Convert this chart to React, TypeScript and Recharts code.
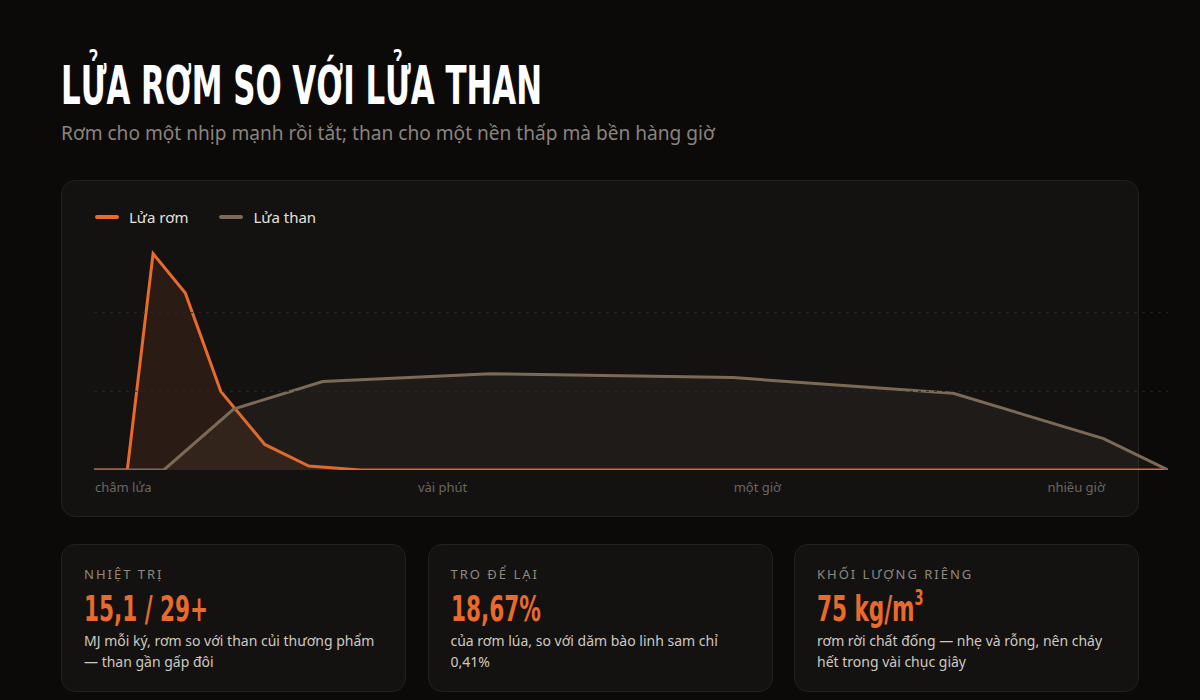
import { AreaChart, Area, XAxis, YAxis, ReferenceLine } from 'recharts';

// thời gian (thang 0–100) và nhiệt độ tương đối của từng loại lửa
const strawTime = [0, 3.1, 5.5, 8.5, 11.8, 15.9, 20, 24.8, 100];
const strawHeat = [0, 0, 110, 90, 40, 13, 2, 0, 0];
const coalTime = [0, 6.5, 13, 21.3, 36.9, 59.5, 80, 94, 100];
const coalHeat = [0, 0, 31, 45, 49, 47, 39, 16, 0];

const gridLevels = [40, 80];
const timeLabels = ['châm lửa', 'vài phút', 'một giờ', 'nhiều giờ'];

const ORANGE = '#ea6a2c';
const BROWN = '#7c6a56';
const SANS = '"Noto Sans", "Open Sans", sans-serif';
const CONDENSED = '"DejaVu Sans Condensed", "DejaVu Sans", sans-serif';

const allTimes = Array.from(new Set([...strawTime, ...coalTime])).sort((a, b) => a - b);
const data = allTimes.map((t) => {
  const si = strawTime.indexOf(t);
  const ci = coalTime.indexOf(t);
  return {
    t,
    straw: si >= 0 ? strawHeat[si] : null,
    coal: ci >= 0 ? coalHeat[ci] : null,
  };
});

const stats = [
  { label: 'NHIỆT TRỊ', value: '15,1 / 29+', sup: '', text: 'MJ mỗi ký, rơm so với than củi thương phẩm — than gần gấp đôi' },
  { label: 'TRO ĐỂ LẠI', value: '18,67%', sup: '', text: 'của rơm lúa, so với dăm bào linh sam chỉ 0,41%' },
  { label: 'KHỐI LƯỢNG RIÊNG', value: '75 kg/m', sup: '3', text: 'rơm rời chất đống — nhẹ và rỗng, nên cháy hết trong vài chục giây' },
];

const cardStyle: React.CSSProperties = {
  position: 'absolute',
  background: '#131211',
  border: '1px solid #23211e',
  borderRadius: 14,
  boxSizing: 'border-box',
};

function LegendItem({ color, name }: { color: string; name: string }) {
  return (
    <div style={{ display: 'flex', alignItems: 'center', marginRight: 31 }}>
      <span style={{ width: 24, height: 4, borderRadius: 2, background: color, marginRight: 10 }} />
      <span style={{ fontSize: 15, color: '#e6e1da', fontFamily: SANS }}>{name}</span>
    </div>
  );
}

export default function App() {
  return (
    <div
      style={{
        position: 'absolute',
        left: 0,
        top: 0,
        width: 1200,
        height: 700,
        overflow: 'hidden',
        background: '#0b0a09',
        fontFamily: SANS,
      }}
    >
      <div
        style={{
          position: 'absolute',
          left: 61,
          top: 59,
          fontFamily: CONDENSED,
          fontWeight: 700,
          fontSize: 53,
          lineHeight: 1,
          color: '#ffffff',
          whiteSpace: 'nowrap',
          transform: 'scaleX(0.647)',
          transformOrigin: 'left top',
        }}
      >
        LỬA RƠM SO VỚI LỬA THAN
      </div>
      <div
        style={{
          position: 'absolute',
          left: 61,
          top: 124,
          fontSize: 19.1,
          lineHeight: 1,
          color: '#8a847c',
          whiteSpace: 'nowrap',
        }}
      >
        Rơm cho một nhịp mạnh rồi tắt; than cho một nền thấp mà bền hàng giờ
      </div>

      <div style={{ ...cardStyle, left: 61, top: 180, width: 1078, height: 337 }}>
        <div style={{ position: 'absolute', left: 33, top: 26, display: 'flex' }}>
          <LegendItem color={ORANGE} name="Lửa rơm" />
          <LegendItem color={BROWN} name="Lửa than" />
        </div>
        <div style={{ position: 'absolute', left: 32, top: 53 }}>
          <AreaChart width={1074} height={236} data={data} margin={{ top: 0, right: 0, bottom: 0, left: 0 }}>
            <XAxis dataKey="t" type="number" domain={[0, 100]} hide />
            <YAxis type="number" domain={[0, 120]} hide />
            {gridLevels.map((v) => (
              <ReferenceLine key={v} y={v} stroke="#2a2723" strokeDasharray="3 5" />
            ))}
            <Area
              type="linear"
              dataKey="straw"
              name="Lửa rơm"
              stroke={ORANGE}
              strokeWidth={3}
              fill={ORANGE}
              fillOpacity={0.11}
              connectNulls
              dot={false}
              activeDot={false}
              isAnimationActive={false}
            />
            <Area
              type="linear"
              dataKey="coal"
              name="Lửa than"
              stroke={BROWN}
              strokeWidth={3}
              fill={BROWN}
              fillOpacity={0.1}
              connectNulls
              dot={false}
              activeDot={false}
              isAnimationActive={false}
            />
          </AreaChart>
        </div>
        <div
          style={{
            position: 'absolute',
            left: 33,
            right: 33,
            top: 298,
            display: 'flex',
            justifyContent: 'space-between',
            fontSize: 13,
            lineHeight: '16px',
            color: '#6b665f',
          }}
        >
          {timeLabels.map((l) => (
            <span key={l}>{l}</span>
          ))}
        </div>
      </div>

      {stats.map((s, i) => (
        <div key={s.label} style={{ ...cardStyle, left: 61 + i * 366.5, top: 544, width: 345, height: 148 }}>
          <div
            style={{
              position: 'absolute',
              left: 22,
              top: 21,
              fontSize: 13,
              lineHeight: '16px',
              letterSpacing: 2,
              color: '#8f8980',
            }}
          >
            {s.label}
          </div>
          <div
            style={{
              position: 'absolute',
              left: 22,
              top: 46,
              fontFamily: CONDENSED,
              fontWeight: 700,
              fontSize: 36,
              lineHeight: 1,
              color: ORANGE,
              whiteSpace: 'nowrap',
              transform: 'scaleX(0.665)',
              transformOrigin: 'left top',
            }}
          >
            {s.value}
            {s.sup && <sup style={{ fontSize: '0.6em', verticalAlign: '0.75em', lineHeight: 0 }}>{s.sup}</sup>}
          </div>
          <div
            style={{
              position: 'absolute',
              left: 22,
              right: 18,
              top: 85,
              fontSize: 14,
              lineHeight: '21px',
              color: '#cfc9c0',
            }}
          >
            {s.text}
          </div>
        </div>
      ))}
    </div>
  );
}
